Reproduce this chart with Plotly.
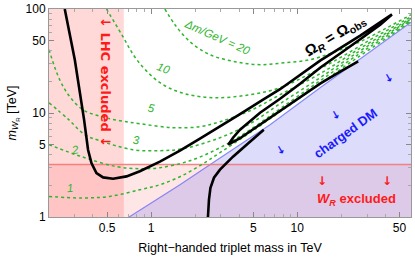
import numpy as np
import plotly.graph_objects as go

# ---------------- data (TeV) ----------------
x_range = [0.2, 60]
y_range = [1, 100]
lhc_limit = 0.65          # LHC exclusion on triplet mass
wr_limit = 3.2            # W_R exclusion

x_tickvals = [0.5, 1, 5, 10, 50]
x_ticktext = ["0.5", "1", "5", "10", "50"]
y_tickvals = [1, 5, 10, 50, 100]
y_ticktext = ["1", "5", "10", "50", "100"]

# boundary of the charged-DM region
charged_M = [0.707, 1.089, 1.574, 2.566, 4.056, 6.51, 14.33, 26.96, 60.0]
charged_m = [1.0, 1.467, 2.045, 3.233, 4.958, 7.72, 17.51, 33.27, 74.66]

# Omega_R = Omega_obs, main branch (down, minimum, up, fold back, cusp, up again)
omega_a_M = [0.2563, 0.3003, 0.3475, 0.370, 0.3904, 0.4224, 0.469, 0.549, 0.6785, 0.837,
             1.148, 1.574, 2.158, 2.958, 4.056, 5.833, 7.625, 14.33, 26.96, 44.45,
             36.96, 26.96, 19.66, 14.33, 10.45, 7.625, 5.563, 4.056, 3.632, 3.372,
             4.056, 5.278, 7.625, 10.45, 14.33, 19.66, 26.11]
omega_a_m = [100.0, 32.54, 8.63, 4.436, 3.305, 2.649, 2.403, 2.335, 2.457, 2.757,
             3.402, 4.34, 5.66, 7.385, 9.74, 13.43, 16.94, 31.84, 55.38, 88.7,
             70.6, 51.24, 37.58, 27.27, 19.13, 13.72, 10.07, 6.90, 5.788, 4.958,
             5.724, 7.385, 10.52, 14.35, 19.13, 24.95, 31.35]
# Omega_R = Omega_obs, branch rising from the bottom
omega_b_M = [2.447, 2.487, 2.546, 2.691, 2.958, 3.632, 4.60, 5.90]
omega_b_m = [1.0, 1.467, 1.913, 2.387, 2.85, 3.80, 5.10, 6.90]

# mass-splitting contours, Delta m / GeV
dm1_M = [0.2, 0.335, 0.5212, 0.837, 1.148, 1.574, 2.158, 2.958, 4.75, 7.625, 14.33, 26.96, 43.27, 60.0]
dm1_m = [1.578, 1.523, 1.578, 1.83, 2.045, 2.44, 3.113, 4.153, 6.466, 10.29, 19.13, 35.56, 55.38, 76.33]
dm2_M = [0.2, 0.335, 0.5703, 0.837, 1.148, 1.843, 2.958, 4.75, 7.625, 14.33, 26.96, 43.27, 60.0]
dm2_m = [4.958, 3.80, 3.066, 2.913, 2.979, 3.478, 4.638, 6.90, 11.0, 20.44, 37.58, 57.86, 78.03]
dm3_M = [0.2, 0.2729, 0.3513, 0.4451, 0.7493, 1.148, 1.650, 2.958, 4.75, 7.625, 14.33, 26.96, 43.27, 60.0]
dm3_m = [12.56, 8.63, 6.185, 5.415, 4.437, 4.34, 4.537, 5.788, 7.89, 12.29, 21.85, 39.72, 59.84, 79.8]
dm5_M = [0.2, 0.2366, 0.2775, 0.3404, 0.4451, 0.6102, 0.837, 1.409, 2.158, 2.958, 4.75, 7.625, 14.33, 26.96, 43.27, 60.0]
dm5_m = [40.62, 20.9, 14.35, 10.76, 9.316, 8.433, 7.89, 7.223, 7.385, 8.25, 10.52, 15.0, 23.87, 41.98, 61.84, 81.56]
dm10_M = [0.4948, 0.63, 0.7981, 1.148, 1.702, 2.734, 4.75, 7.625, 12.24, 19.66, 31.56, 46.82, 60.0]
dm10_m = [100.0, 56.6, 32.54, 19.56, 15.33, 14.03, 15.0, 17.51, 23.87, 34.02, 50.67, 69.09, 84.33]
dm20_M = [1.242, 1.454, 1.843, 2.527, 3.748, 5.563, 8.25, 12.24, 18.16, 26.96, 39.99, 60.0]
dm20_m = [100.0, 70.63, 48.49, 36.36, 31.14, 29.14, 30.46, 32.54, 38.85, 48.49, 64.66, 88.15]

# ---------------- styles ----------------
GREEN = "#2fb52f"
RED_TXT = "#ff1a1a"
BLUE_TXT = "#1a1aff"
FONT = "Liberation Sans, Arial, sans-serif"
ARROW_FONT = "DejaVu Sans, sans-serif"

fig = go.Figure()

# W_R excluded band
fig.add_trace(go.Scatter(x=[x_range[0], x_range[1], x_range[1], x_range[0]],
                         y=[y_range[0], y_range[0], wr_limit, wr_limit],
                         fill="toself", fillcolor="rgba(255,60,60,0.13)",
                         line=dict(width=0), mode="lines", hoverinfo="skip", showlegend=False))
# LHC excluded band
fig.add_trace(go.Scatter(x=[x_range[0], lhc_limit, lhc_limit, x_range[0]],
                         y=[y_range[0], y_range[0], y_range[1], y_range[1]],
                         fill="toself", fillcolor="rgba(255,60,60,0.2)",
                         line=dict(width=0), mode="lines", hoverinfo="skip", showlegend=False))
# charged DM region
fig.add_trace(go.Scatter(x=charged_M + [x_range[1], charged_M[0]],
                         y=charged_m + [y_range[0], y_range[0]],
                         fill="toself", fillcolor="rgba(120,120,240,0.25)",
                         line=dict(width=0), mode="lines", hoverinfo="skip", showlegend=False))
fig.add_trace(go.Scatter(x=charged_M, y=charged_m, mode="lines",
                         line=dict(color="rgba(110,110,245,0.8)", width=1.2),
                         hoverinfo="skip", showlegend=False))
# W_R limit line
fig.add_trace(go.Scatter(x=x_range, y=[wr_limit, wr_limit], mode="lines",
                         line=dict(color="rgba(245,120,120,0.9)", width=1.4),
                         hoverinfo="skip", showlegend=False))

# Delta m contours
for Ms, ms in [(dm1_M, dm1_m), (dm2_M, dm2_m), (dm3_M, dm3_m),
               (dm5_M, dm5_m), (dm10_M, dm10_m), (dm20_M, dm20_m)]:
    fig.add_trace(go.Scatter(x=Ms, y=ms, mode="lines", line_shape="spline",
                             line=dict(color=GREEN, width=1.5, dash="dot"),
                             hoverinfo="skip", showlegend=False))

# relic-abundance curves
for Ms, ms in [(omega_a_M, omega_a_m), (omega_b_M, omega_b_m)]:
    fig.add_trace(go.Scatter(x=Ms, y=ms, mode="lines",
                             line=dict(color="black", width=2.6),
                             hoverinfo="skip", showlegend=False))

# ---------------- layout geometry ----------------
W, H = 415, 261
L, R, T, B = 49, 411, 9, 217     # plot frame


def P(px, py):
    return dict(x=(px - L) / (R - L), y=(B - py) / (B - T), xref="paper", yref="paper",
                xanchor="center", yanchor="middle", showarrow=False)


ann = []
ann.append(dict(**P(106, 82), text="<b>↓ LHC excluded ↓</b>", textangle=90,
                font=dict(family=ARROW_FONT.split(",")[0] + ", " + FONT, size=13, color=RED_TXT)))
ann.append(dict(**P(356, 199), text="<b><i>W<sub>R</sub></i> excluded</b>",
                font=dict(family=FONT, size=13, color=RED_TXT)))
for ax in (322, 387):
    ann.append(dict(**P(ax, 181), text="<b>↓</b>",
                    font=dict(family=ARROW_FONT, size=12, color=RED_TXT)))
ann.append(dict(**P(345, 133), text="<b>charged DM</b>", textangle=-36,
                font=dict(family=FONT, size=13, color=BLUE_TXT)))
for ax, ay in [(280, 150), (335, 115), (388, 78)]:
    ann.append(dict(**P(ax, ay), text="<b>↓</b>", textangle=-30,
                    font=dict(family=ARROW_FONT, size=11, color=BLUE_TXT)))
ann.append(dict(**P(335, 35), text="<b>Ω<sub><i>R</i></sub> = Ω<sub>obs</sub></b>", textangle=-31,
                font=dict(family=FONT, size=15, color="black")))
ann.append(dict(**P(217, 37), text="<i>Δm/GeV = 20</i>", textangle=24,
                font=dict(family=FONT, size=11.5, color=GREEN)))
for t, px, py, ang in [("10", 163, 68, 20), ("5", 151, 108, 10), ("3", 136.5, 139.5, 5),
                       ("2", 74.5, 150, -10), ("1", 69.5, 188, -5)]:
    ann.append(dict(**P(px, py), text="<i>" + t + "</i>", textangle=ang,
                    font=dict(family=FONT, size=11.5, color=GREEN)))

minor_x = [v * d for d in (0.1, 1, 10) for v in range(2, 10) if x_range[0] <= v * d <= x_range[1]]
minor_y = [v * d for d in (1, 10) for v in range(2, 10)]

axis_common = dict(type="log", ticks="inside", ticklen=5, tickcolor="#888",
                   showline=True, linecolor="#999", linewidth=1, mirror="allticks",
                   showgrid=False, zeroline=False, tickfont=dict(size=12),
                   automargin=False, ticklabeloverflow="allow")

fig.update_layout(
    template="none",
    width=W, height=H,
    margin=dict(l=L, r=W - R, t=T, b=H - B, pad=0),
    paper_bgcolor="white", plot_bgcolor="white",
    font=dict(family=FONT, size=12, color="black"),
    annotations=ann,
    xaxis=dict(**axis_common, range=[np.log10(x_range[0]), np.log10(x_range[1])],
               tickvals=x_tickvals, ticktext=x_ticktext,
               minor=dict(tickvals=minor_x, ticks="inside", ticklen=3, tickcolor="#aaa", showgrid=False),
               title=dict(text="Right−handed triplet mass in TeV", font=dict(size=12.5), standoff=8)),
    yaxis=dict(**axis_common, range=[np.log10(y_range[0]), np.log10(y_range[1])],
               tickvals=y_tickvals, ticktext=y_ticktext,
               minor=dict(tickvals=minor_y, ticks="inside", ticklen=3, tickcolor="#aaa", showgrid=False),
               title=dict(text="<i>m</i><sub><i>W</i><sub>R</sub></sub> [TeV]", font=dict(size=12.5), standoff=6)),
)

# remove the default 8px page margin so the figure fills the window exactly
fig.write_html("out.html",
               config={"displayModeBar": False, "staticPlot": True},
               post_script="document.body.style.margin='0px';document.body.style.overflow='hidden';")
